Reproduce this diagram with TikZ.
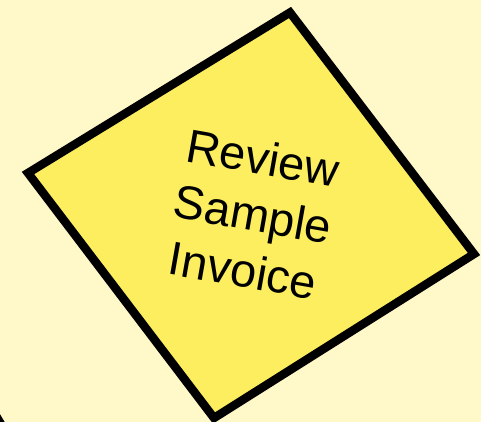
\documentclass[tikz,border=0pt]{standalone}
\usepackage{fontspec}
\setmainfont{Liberation Sans}
\definecolor{bgyellow}{HTML}{FFF9C9}
\definecolor{boxyellow}{HTML}{FCEE5E}
\begin{document}
\begin{tikzpicture}[x=1pt,y=-1pt,
  decision/.style={draw=black,fill=boxyellow,line width=8.5pt},
  labeltext/.style={rotate=-10,align=center,font=\fontsize{47}{57}\selectfont,inner sep=0pt},
  edgeline/.style={draw=black,line width=8pt}]
\fill[bgyellow] (0,0) rectangle (481,422);
\useasboundingbox (0,0) rectangle (481,422);
\coordinate (t) at (290,12.5);
\coordinate (r) at (474,254);
\coordinate (b) at (214,418);
\coordinate (l) at (28,173);
\path[decision] (t) -- (r) -- (b) -- (l) -- cycle;
\node[labeltext] (lbl) at (253,214) {Review\\Sample\\Invoice};
\coordinate (o1) at (-12,402);
\coordinate (o2) at (6,432);
\draw[edgeline] (o1) -- (o2);
\end{tikzpicture}
\end{document}
